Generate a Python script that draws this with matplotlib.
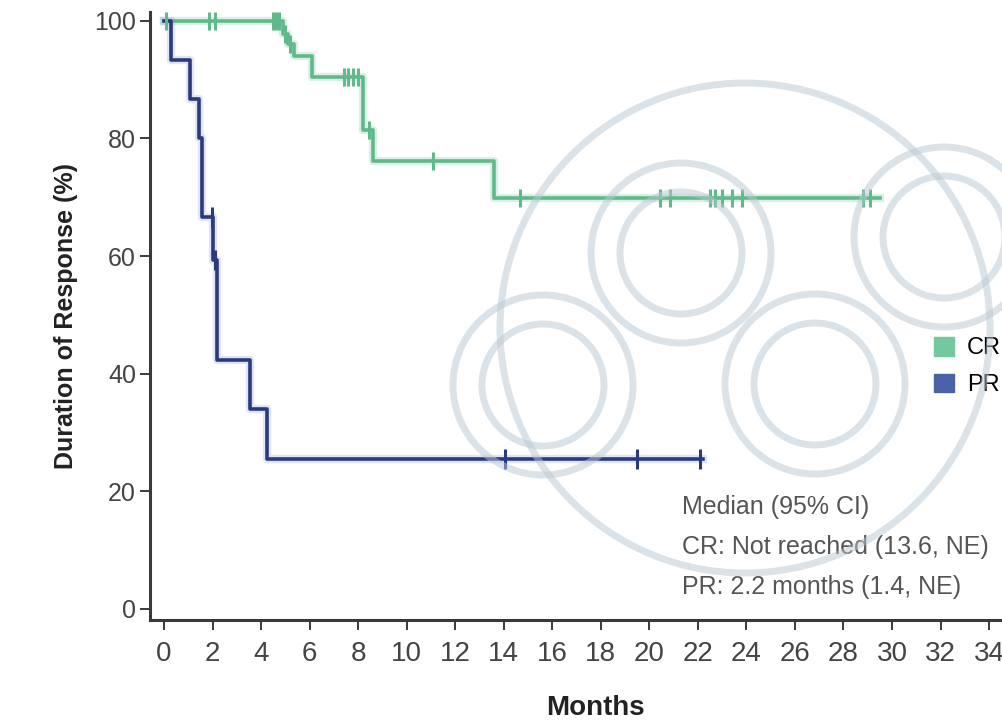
import numpy as np
import matplotlib
matplotlib.use('agg')
import matplotlib.pyplot as plt
from matplotlib import font_manager
from matplotlib.patches import Patch, Circle

# Kaplan-Meier steps (months, % still in response)
cr_time = [0, 4.9, 5.1, 5.35, 6.1, 8.2, 8.6, 13.6, 29.5]
cr_surv = [100, 97.7, 96.0, 94.0, 90.5, 81.5, 76.1, 69.8, 69.8]
pr_time = [0, 0.3, 1.05, 1.45, 1.55, 2.02, 2.17, 3.55, 4.25, 22.2]
pr_surv = [100, 93.3, 86.7, 80.0, 66.7, 59.3, 42.3, 33.9, 25.4, 25.4]

# censored patients
cr_cens_t = [0.1, 1.85, 2.1, 4.5, 4.62, 4.75, 5.0, 5.2, 7.4, 7.6, 7.8, 8.0, 8.45, 11.1,
             14.65, 20.45, 20.85, 22.5, 22.7, 23.0, 23.4, 23.8, 28.8, 29.1]
cr_cens_s = [100, 100, 100, 100, 100, 100, 97.7, 96.0, 90.5, 90.5, 90.5, 90.5, 81.5, 76.1,
             69.8, 69.8, 69.8, 69.8, 69.8, 69.8, 69.8, 69.8, 69.8, 69.8]
pr_cens_t = [1.96, 2.08, 14.05, 19.5, 22.1]
pr_cens_s = [66.7, 59.3, 25.4, 25.4, 25.4]

groups = ['CR', 'PR']
notes = ['Median (95% CI)', 'CR: Not reached (13.6, NE)', 'PR: 2.2 months (1.4, NE)']
xticks = np.arange(0, 35, 2)
yticks = np.arange(0, 101, 20)

cr_col = '#5fb98a'
pr_col = '#2c3a7c'
cr_patch = '#74c8a0'
pr_patch = '#4b62a8'

names = {f.name for f in font_manager.fontManager.ttflist}
narrow = 'Liberation Sans Narrow' if 'Liberation Sans Narrow' in names else 'Liberation Sans'
plt.rcParams['font.family'] = ['Liberation Sans', 'DejaVu Sans']

fig = plt.figure(figsize=(10.03, 7.21), dpi=100)
ax = fig.add_axes([150/1003, 101/721, 890/1003, 608/721])

# soft halo under each curve, then the curve itself
ax.step(cr_time, cr_surv, where='post', color=cr_col, lw=6, alpha=0.22)
ax.step(pr_time, pr_surv, where='post', color='#6f86d6', lw=6, alpha=0.22)
ax.step(cr_time, cr_surv, where='post', color=cr_col, lw=2.6)
ax.step(pr_time, pr_surv, where='post', color=pr_col, lw=2.6)
ax.plot(cr_cens_t, cr_cens_s, ls='none', marker='|', ms=13, mew=2.2, color=cr_col)
ax.plot(pr_cens_t, pr_cens_s, ls='none', marker='|', ms=14, mew=2.2, color=pr_col)

ax.set_xlim(-0.58, 36.1)
ax.set_ylim(-1.9, 101.5)
ax.set_xticks(xticks)
ax.set_yticks(yticks)
for s in ['top', 'right']:
    ax.spines[s].set_visible(False)
for s in ['left', 'bottom']:
    ax.spines[s].set_color('#3a3a3a')
    ax.spines[s].set_linewidth(2.2)
ax.tick_params(axis='both', direction='out', length=7, width=1.4, color='#3a3a3a', labelcolor='#444444')
ax.tick_params(axis='x', pad=8)
ax.tick_params(axis='y', pad=3, labelsize=18)
for lbl in ax.get_xticklabels():
    lbl.set_family(narrow)
    lbl.set_fontsize(20)

ax.set_xlabel('Months', family=narrow, fontsize=20, fontweight='bold', color='#222222', labelpad=20)
ax.set_ylabel('Duration of Response (%)', fontsize=18, fontweight='bold', color='#222222', labelpad=12)

for i, t in enumerate(notes):
    ax.text(21.35, 17.3 - i * 6.8, t, family=narrow, fontsize=18, color='#555555', va='center', ha='left')

handles = [Patch(color=cr_patch), Patch(color=pr_patch)]
ax.legend(handles, groups, loc='upper left', bbox_to_anchor=(922/1003, 1 - 325/721),
          bbox_transform=fig.transFigure, frameon=False, fontsize=17, handlelength=0.85,
          handleheight=0.85, handletextpad=0.55, labelspacing=0.6, borderpad=0)

# light logo stamped across the plot
wm = fig.add_axes([0, 0, 1, 1], zorder=5)
wm.set_xlim(0, 1003)
wm.set_ylim(721, 0)
wm.axis('off')
wm_col = '#b8c7d2'
wm.add_patch(Circle((745, 328), 245, fill=False, lw=5, ec=wm_col, alpha=0.5))
for cx, cy in [(681, 253), (944, 237), (543, 385), (815, 384)]:
    wm.add_patch(Circle((cx, cy), 90, fill=False, lw=5, ec=wm_col, alpha=0.5))
    wm.add_patch(Circle((cx, cy), 61, fill=False, lw=5, ec=wm_col, alpha=0.5))

fig.savefig('out.png', dpi=100)
